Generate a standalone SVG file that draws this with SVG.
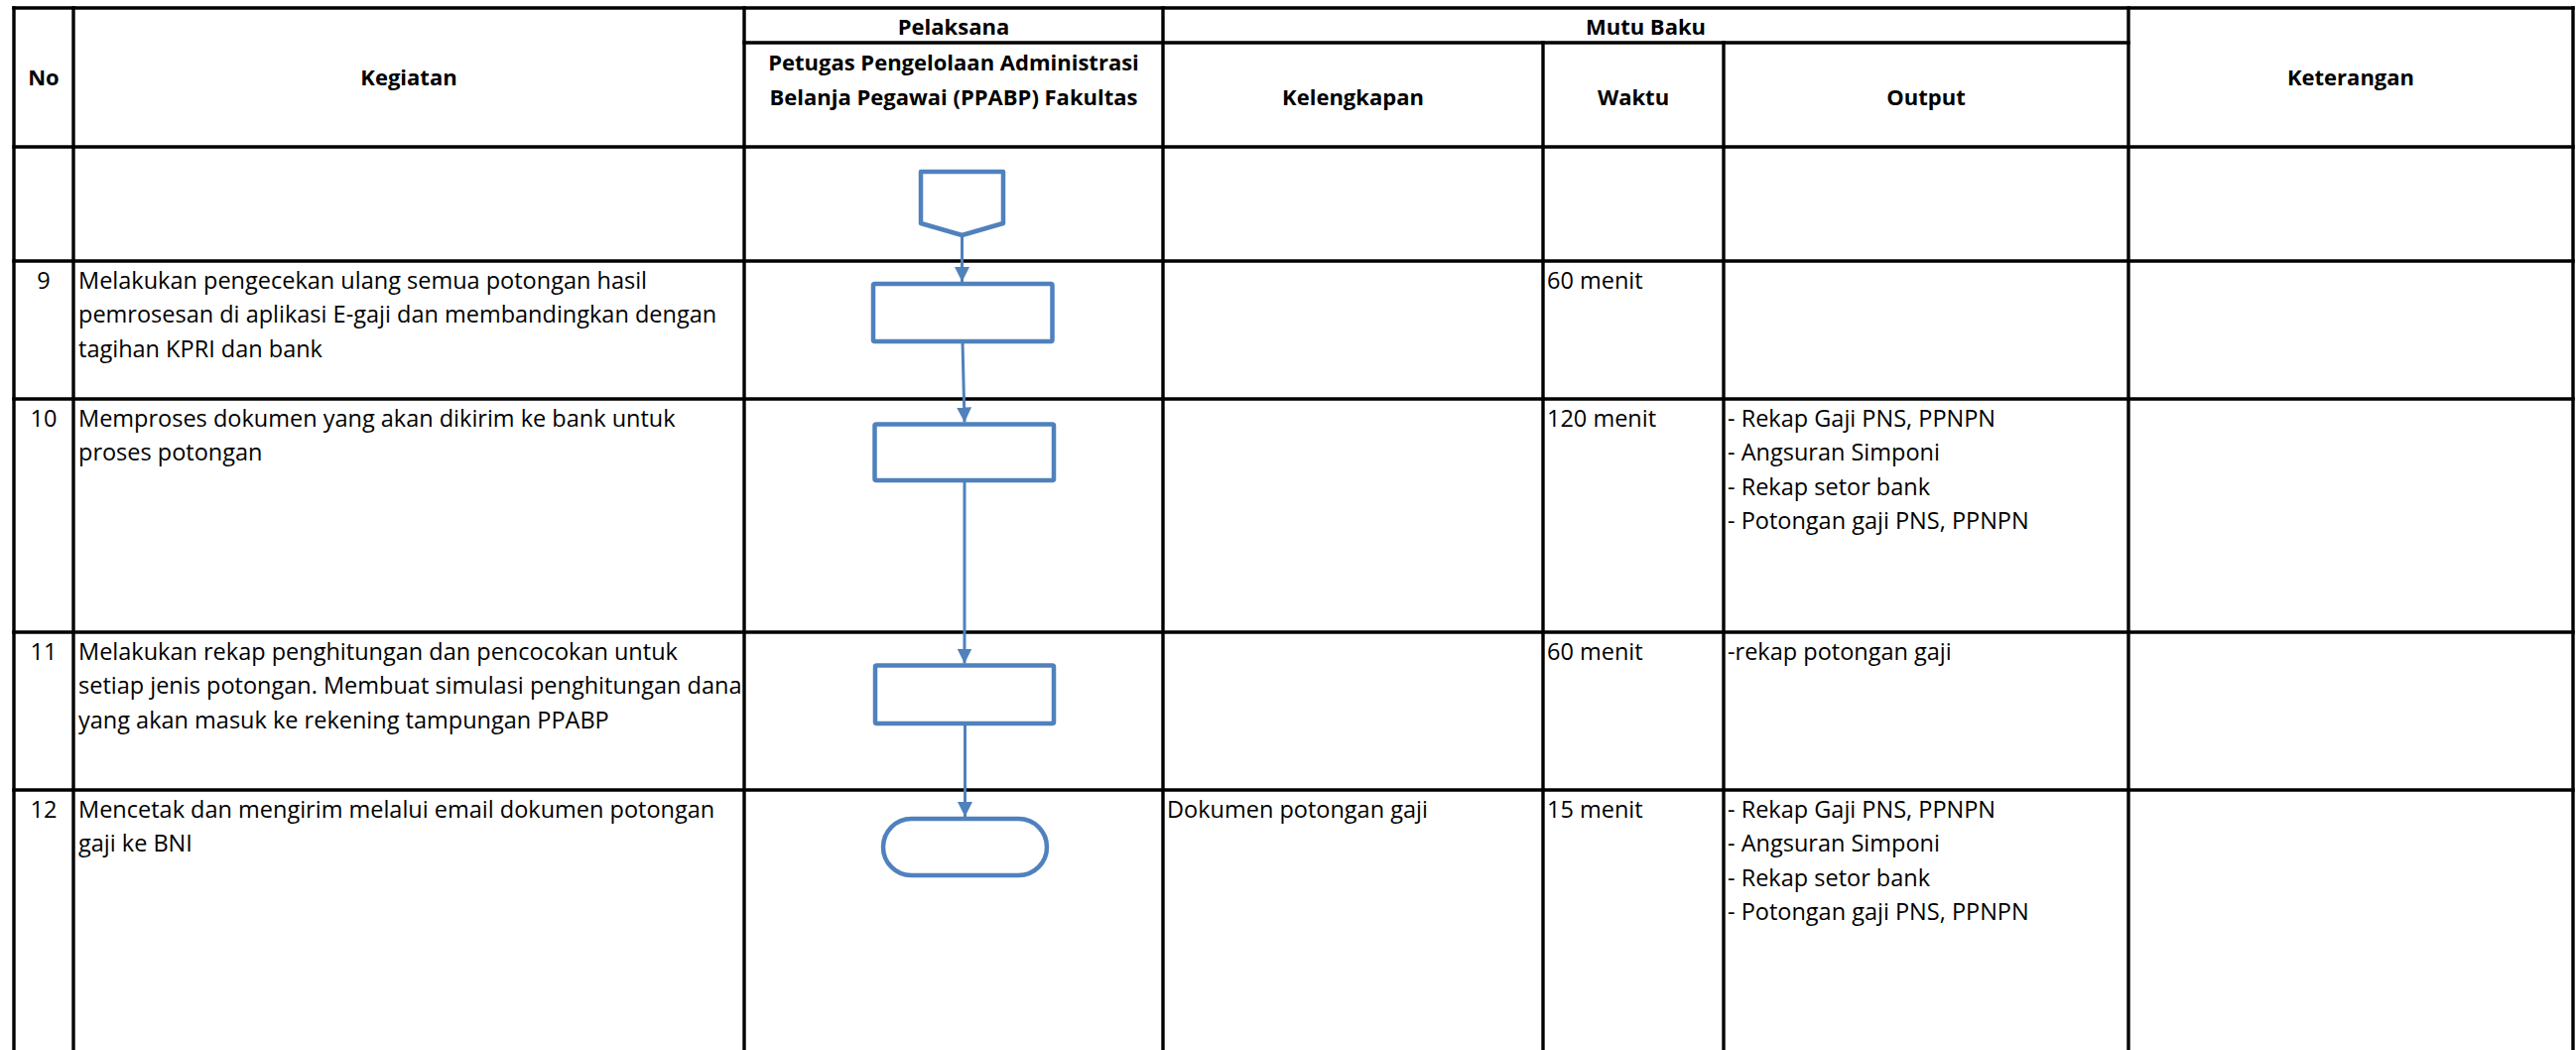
<svg xmlns="http://www.w3.org/2000/svg" width="2596" height="1058" viewBox="0 0 2596 1058">
<style>
.grid line{stroke:#000;stroke-width:3.4;stroke-linecap:square}
.h{font-family:"Open Sans","Noto Sans","Liberation Sans",sans-serif;font-weight:bold;font-size:22px;text-anchor:middle;fill:#000}
.t{font-family:"Open Sans","Noto Sans","Liberation Sans",sans-serif;font-size:23.5px;fill:#000}
.n{text-anchor:middle}
.shape{fill:#fff;stroke:#4F81BD;stroke-width:4.5;stroke-linejoin:round}
.conn{stroke:#4F81BD;stroke-width:3;fill:none;marker-end:url(#arr)}
</style>
<defs>
<marker id="arr" markerUnits="userSpaceOnUse" markerWidth="15" markerHeight="15" viewBox="0 0 15 15" refX="15" refY="7.5" orient="auto">
<path d="M0,0 L15,7.5 L0,15 z" fill="#4F81BD"/>
</marker>
</defs>
<rect width="2596" height="1058" fill="#fff"/>
<g id="table" class="grid">
<line x1="14" y1="8" x2="2593" y2="8"/>
<line x1="750" y1="43" x2="2145" y2="43"/>
<line x1="14" y1="148" x2="2593" y2="148"/>
<line x1="14" y1="263" x2="2593" y2="263"/>
<line x1="14" y1="402" x2="2593" y2="402"/>
<line x1="14" y1="637" x2="2593" y2="637"/>
<line x1="14" y1="796" x2="2593" y2="796"/>
<line x1="14" y1="8" x2="14" y2="1058"/>
<line x1="74" y1="8" x2="74" y2="1058"/>
<line x1="750" y1="8" x2="750" y2="1058"/>
<line x1="1172" y1="8" x2="1172" y2="1058"/>
<line x1="1555" y1="43" x2="1555" y2="1058"/>
<line x1="1737" y1="43" x2="1737" y2="1058"/>
<line x1="2145" y1="8" x2="2145" y2="1058"/>
<line x1="2593" y1="8" x2="2593" y2="1058"/>
</g>
<g id="header">
<text class="h" x="44" y="86">No</text>
<text class="h" x="412" y="86">Kegiatan</text>
<text class="h" x="961" y="35">Pelaksana</text>
<text class="h" x="1658.5" y="35">Mutu Baku</text>
<text class="h" x="961" y="71">Petugas Pengelolaan Administrasi</text>
<text class="h" x="961" y="106">Belanja Pegawai (PPABP) Fakultas</text>
<text class="h" x="1363.5" y="106">Kelengkapan</text>
<text class="h" x="1646" y="106">Waktu</text>
<text class="h" x="1941" y="106">Output</text>
<text class="h" x="2369" y="86">Keterangan</text>
</g>
<g id="row9">
<text class="t n" x="44" y="291">9</text>
<text class="t" x="79" y="291">Melakukan pengecekan ulang semua potongan hasil</text>
<text class="t" x="79" y="325.4">pemrosesan di aplikasi E-gaji dan membandingkan dengan</text>
<text class="t" x="79" y="359.8">tagihan KPRI dan bank</text>
<text class="t" x="1559" y="291">60 menit</text>
</g>
<g id="row10">
<text class="t n" x="44" y="430">10</text>
<text class="t" x="79" y="430">Memproses dokumen yang akan dikirim ke bank untuk</text>
<text class="t" x="79" y="464.4">proses potongan</text>
<text class="t" x="1559" y="430">120 menit</text>
<text class="t" x="1741" y="430">- Rekap Gaji PNS, PPNPN</text>
<text class="t" x="1741" y="464.4">- Angsuran Simponi</text>
<text class="t" x="1741" y="498.8">- Rekap setor bank</text>
<text class="t" x="1741" y="533.2">- Potongan gaji PNS, PPNPN</text>
</g>
<g id="row11">
<text class="t n" x="44" y="665">11</text>
<text class="t" x="79" y="665">Melakukan rekap penghitungan dan pencocokan untuk</text>
<text class="t" x="79" y="699.4">setiap jenis potongan. Membuat simulasi penghitungan dana</text>
<text class="t" x="79" y="733.8">yang akan masuk ke rekening tampungan PPABP</text>
<text class="t" x="1559" y="665">60 menit</text>
<text class="t" x="1741" y="665">-rekap potongan gaji</text>
</g>
<g id="row12">
<text class="t n" x="44" y="824">12</text>
<text class="t" x="79" y="824">Mencetak dan mengirim melalui email dokumen potongan</text>
<text class="t" x="79" y="858.4">gaji ke BNI</text>
<text class="t" x="1176" y="824">Dokumen potongan gaji</text>
<text class="t" x="1559" y="824">15 menit</text>
<text class="t" x="1741" y="824">- Rekap Gaji PNS, PPNPN</text>
<text class="t" x="1741" y="858.4">- Angsuran Simponi</text>
<text class="t" x="1741" y="892.8">- Rekap setor bank</text>
<text class="t" x="1741" y="927.2">- Potongan gaji PNS, PPNPN</text>
</g>
<g id="connectors">
<path class="conn" d="M969.5,237 L969.5,284"/>
<path class="conn" d="M970,344 L972,425.5"/>
<path class="conn" d="M972,484 L972,668.5"/>
<path class="conn" d="M972.5,729 L972.5,823"/>
</g>
<g id="start">
<polygon class="shape" points="928,173 1011,173 1011,225 969.5,237 928,225"/>
</g>
<g id="step9">
<rect class="shape" x="880" y="286" width="180.5" height="58" rx="1.5"/>
</g>
<g id="step10">
<rect class="shape" x="881.5" y="427.5" width="180.5" height="56.5" rx="1.5"/>
</g>
<g id="step11">
<rect class="shape" x="882" y="670.5" width="180" height="58.5" rx="1.5"/>
</g>
<g id="end">
<rect class="shape" x="890" y="825" width="165" height="57" rx="28.5"/>
</g>
</svg>
